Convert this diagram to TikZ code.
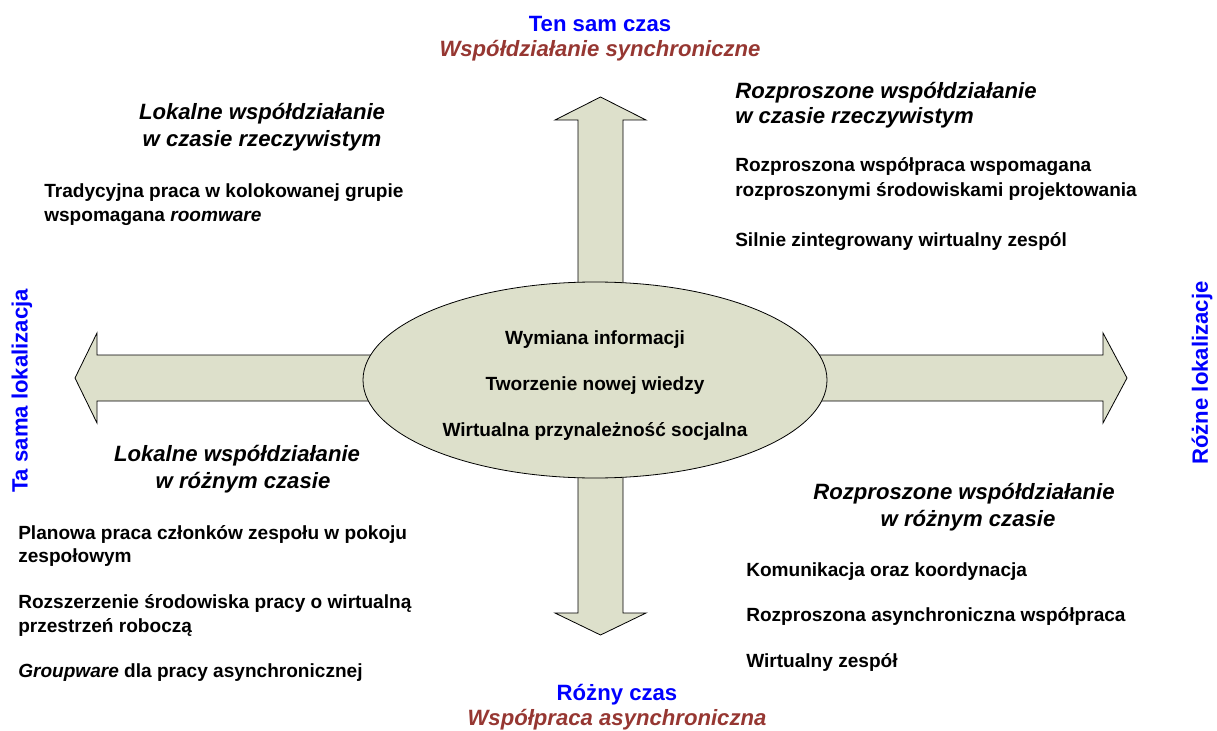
\documentclass[tikz,border=0pt]{standalone}
\usepackage{fontspec}
\setmainfont{Liberation Sans}
\usetikzlibrary{shapes.geometric}
\definecolor{axisblue}{RGB}{0,0,255}
\definecolor{modered}{RGB}{150,55,50}
\definecolor{sage}{RGB}{221,224,203}
\begin{document}
\begin{tikzpicture}[x=0.75pt,y=-0.75pt,
  body/.style={font=\bfseries\fontsize{14.3}{17}\selectfont, inner sep=0, anchor=base west},
  head/.style={font=\bfseries\itshape\fontsize{16.6}{20}\selectfont, inner sep=0, anchor=base},
  headl/.style={head, anchor=base west},
  axis/.style={font=\bfseries\fontsize{16.6}{20}\selectfont, text=axisblue, inner sep=0, anchor=base},
  mode/.style={font=\bfseries\itshape\fontsize{16.6}{20}\selectfont, text=modered, inner sep=0, anchor=base},
  hubtext/.style={font=\bfseries\fontsize{14.3}{17}\selectfont, inner sep=0, anchor=base},
  blockfill/.style={draw=black, line width=0.6pt, fill=sage, line join=miter}]
\useasboundingbox (0,0) rectangle (1217,731);

% four block arrows pointing out of the centre
\draw[blockfill] (578,378) -- (578,120) -- (555,120) -- (600.5,97) -- (646,120) -- (623,120) -- (623,378) -- cycle;
\draw[blockfill] (578,378) -- (578,613) -- (555,613) -- (600.5,635) -- (646,613) -- (623,613) -- (623,378) -- cycle;
\draw[blockfill] (600,355) -- (97,355) -- (97,333) -- (75,378) -- (97,423) -- (97,401) -- (600,401) -- cycle;
\draw[blockfill] (600,355) -- (1103,355) -- (1103,333) -- (1127,378) -- (1103,423) -- (1103,401) -- (600,401) -- cycle;

% central ellipse
\node[blockfill, ellipse, minimum width=464*0.75pt, minimum height=196*0.75pt, inner sep=0] (hub) at (595,380) {};
\node[hubtext] (h1) at (595,344) {Wymiana informacji};
\node[hubtext] (h2) at (595,390) {Tworzenie nowej wiedzy};
\node[hubtext] (h3) at (595,436) {Wirtualna przynależność socjalna};

% axis labels
\node[axis] (tsame) at (600,32) {Ten sam czas};
\node[mode] (tsync) at (600,57) {Współdziałanie synchroniczne};
\node[axis] (tdiff) at (617,700) {Różny czas};
\node[mode] (tasync) at (617,725) {Współpraca asynchroniczna};
\node[axis, anchor=center, rotate=90] (lsame) at (22,391) {Ta sama lokalizacja};
\node[axis, anchor=center, rotate=90] (ldiff) at (1202,373) {Różne lokalizacje};

% upper left quadrant
\node[head] (q1a) at (262,120) {Lokalne współdziałanie};
\node[head] (q1b) at (262,147) {w czasie rzeczywistym};
\node[body] (q1c) at (44,198) {Tradycyjna praca w kolokowanej grupie};
\node[body] (q1d) at (44,221) {wspomagana \textit{roomware}};

% upper right quadrant
\node[headl] (q2a) at (735,99) {Rozproszone współdziałanie};
\node[headl] (q2b) at (735,124) {w czasie rzeczywistym};
\node[body] (q2c) at (735,172) {Rozproszona współpraca wspomagana};
\node[body] (q2d) at (735,197) {rozproszonymi środowiskami projektowania};
\node[body] (q2e) at (735,246) {Silnie zintegrowany wirtualny zespól};

% lower left quadrant
\node[head] (q3a) at (237,461) {Lokalne współdziałanie};
\node[head] (q3b) at (243,488) {w różnym czasie};
\node[body] (q3c) at (18,539) {Planowa praca członków zespołu w pokoju};
\node[body] (q3d) at (18,562) {zespołowym};
\node[body] (q3e) at (18,608) {Rozszerzenie środowiska pracy o wirtualną};
\node[body] (q3f) at (18,632) {przestrzeń roboczą};
\node[body] (q3g) at (18,677) {\textit{Groupware} dla pracy asynchronicznej};

% lower right quadrant
\node[head] (q4a) at (964,499) {Rozproszone współdziałanie};
\node[head] (q4b) at (968,526) {w różnym czasie};
\node[body] (q4c) at (746,576) {Komunikacja oraz koordynacja};
\node[body] (q4d) at (746,621) {Rozproszona asynchroniczna współpraca};
\node[body] (q4e) at (746,667) {Wirtualny zespół};
\end{tikzpicture}
\end{document}
